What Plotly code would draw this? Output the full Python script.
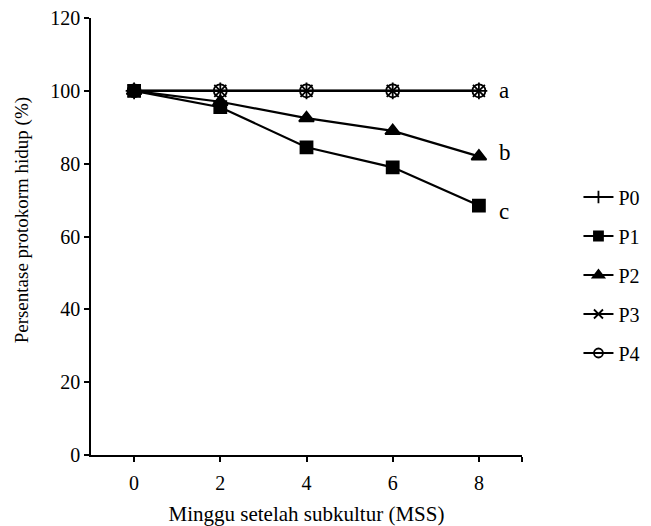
import plotly.graph_objects as go

weeks = [0, 2, 4, 6, 8]
P0 = [100, 100, 100, 100, 100]
P1 = [100, 95.5, 84.5, 79, 68.5]
P2 = [100, 97, 92.5, 89, 82]
P3 = [100, 100, 100, 100, 100]
P4 = [100, 100, 100, 100, 100]
series_names = ["P0", "P1", "P2", "P3", "P4"]
letters = ["a", "b", "c"]
letter_y = [100, 83, 67]
y_ticks = [0, 20, 40, 60, 80, 100, 120]
x_tickvals = [0, 2, 4, 6, 8, 9]
x_ticktext = ["0", "2", "4", "6", "8", ""]

symbols = ["cross-thin", "square", "triangle-up", "x-thin", "circle-open"]
sizes = [12, 12, 13, 12, 13]
legend_sizes = [9, 9, 10, 9, 9]

FONT = "Liberation Serif"

fig = go.Figure()
for name, vals, sym, sz in zip(series_names, [P0, P1, P2, P3, P4], symbols, sizes):
    fig.add_trace(go.Scatter(
        x=weeks, y=vals, name=name, mode="lines+markers",
        line=dict(color="black", width=2.2),
        marker=dict(symbol=sym, size=sz, color="black",
                    line=dict(color="black", width=1.8)),
        showlegend=False, cliponaxis=False,
    ))
# legend-only entries with smaller symbols
for name, sym, sz in zip(series_names, symbols, legend_sizes):
    fig.add_trace(go.Scatter(
        x=[None], y=[None], name=name, mode="lines+markers",
        line=dict(color="black", width=2),
        marker=dict(symbol=sym, size=sz, color="black",
                    line=dict(color="black", width=1.8)),
        legendgroup=name, showlegend=True,
    ))

for t, yv in zip(letters, letter_y):
    fig.add_annotation(x=weeks[-1], y=yv, text=t, showarrow=False,
                       xanchor="left", xshift=18,
                       font=dict(family=FONT, size=23, color="black"))

# y-axis title as annotation (sits slightly above the plot centre)
fig.add_annotation(xref="paper", yref="paper", x=-0.16, y=0.537,
                   text="Persentase protokorm hidup (%)", textangle=-90,
                   showarrow=False, xanchor="center", yanchor="middle",
                   font=dict(family=FONT, size=19, color="black"))

fig.update_layout(
    width=643, height=518,
    margin=dict(l=83, r=129, t=10, b=71, autoexpand=False),
    paper_bgcolor="white", plot_bgcolor="white",
    font=dict(family=FONT, size=20, color="black"),
    showlegend=True,
    legend=dict(x=1.131, y=0.635, xanchor="left", yanchor="top",
                font=dict(family=FONT, size=20),
                tracegroupgap=10, itemwidth=30, bgcolor="rgba(0,0,0,0)"),
    xaxis=dict(range=[-1, 9], tickvals=x_tickvals, ticktext=x_ticktext,
               ticks="outside", ticklen=5,
               tickwidth=1.5, tickcolor="black",
               tickfont=dict(size=20), ticklabelstandoff=4,
               showline=True, linecolor="black", linewidth=1.5,
               showgrid=False, zeroline=False, automargin=False,
               title=dict(text="Minggu setelah subkultur (MSS)",
                          font=dict(size=21), standoff=16)),
    yaxis=dict(range=[0, 120], tickvals=y_ticks, ticks="outside", ticklen=5,
               tickwidth=1.5, tickcolor="black",
               tickfont=dict(size=20), ticklabeloverflow="allow",
               showline=True, linecolor="black", linewidth=1.5,
               showgrid=False, zeroline=False, automargin=False),
)

fig.write_html("out.html")
